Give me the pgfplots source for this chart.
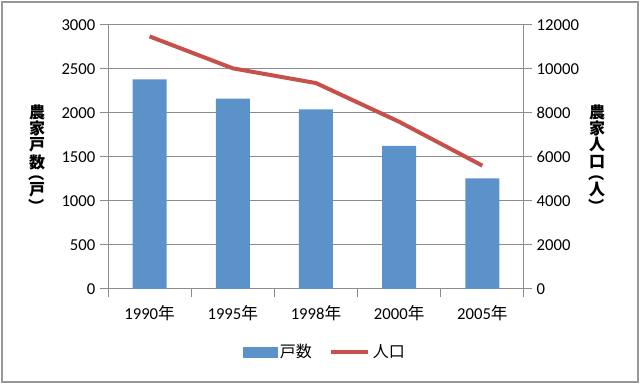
\documentclass[border=0pt]{standalone}
\usepackage{pgfplots}
\pgfplotsset{compat=1.18}
\usepackage{fontspec}
\setmainfont{Carlito}
\newfontfamily\cjk{Noto Sans CJK JP}
\definecolor{barblue}{HTML}{5B92CA}
\definecolor{linered}{HTML}{C6504A}
\definecolor{gridgray}{HTML}{8C8C8C}
\begin{document}
\begin{tikzpicture}
\useasboundingbox (0,0) rectangle (480pt,288pt);
\draw[gridgray!90, line width=1.1pt] (1.5pt,1.5pt) rectangle (478.5pt,286.5pt);
\pgfplotsset{
  mybase/.style={
    at={(81pt,71.25pt)}, anchor=south west, scale only axis,
    width=312pt, height=198pt,
    xmin=-0.5, xmax=4.5,
    axis line style={gridgray, line width=0.75pt},
    tick style={gridgray, line width=0.75pt},
    major tick length=6pt, tick align=outside,
    tick label style={font=\fontsize{12.5}{14}\selectfont},
    scaled y ticks=false,
    /pgf/number format/assume math mode=true,
    /pgf/number format/1000 sep={},
  }
}
\begin{axis}[mybase,
  ymin=0, ymax=3000, ytick={0,500,...,3000},
  axis x line*=bottom, axis y line*=left,
  ymajorgrids, grid style={gridgray, line width=0.75pt},
  xtick={-0.5,0.5,...,4.5}, xticklabels={},
  extra x ticks={0,1,2,3,4},
  extra x tick labels={1990{\cjk 年},1995{\cjk 年},1998{\cjk 年},2000{\cjk 年},2005{\cjk 年}},
  extra x tick style={major tick length=0pt, grid=none, xticklabel style={yshift=-9pt}},
  legend style={at={(0.522,-0.2386)}, anchor=center, legend columns=2, draw=none, fill=none,
    font=\cjk\fontsize{12}{14}\selectfont,
    /tikz/every even column/.append style={column sep=11pt}},
]
\addplot[ybar, bar width=25.5pt, fill=barblue, draw=none, forget plot]
  coordinates {(0,2383) (1,2163) (2,2042) (3,1625) (4,1258)};
\addlegendimage{legend image code/.code={\fill[barblue] (0pt,-3.75pt) rectangle (25.5pt,3.75pt);}}
\addlegendentry{戸数}
\addlegendimage{legend image code/.code={\draw[linered, line width=3pt] (0pt,0pt) -- (27.75pt,0pt);}}
\addlegendentry{人口}
\end{axis}
\begin{axis}[mybase,
  ymin=0, ymax=12000, ytick={0,2000,...,12000},
  axis x line=none, axis y line*=right,
]
\addplot[linered, line width=3pt, no marks]
  coordinates {(0,11480) (1,10030) (2,9360) (3,7600) (4,5606)};
\end{axis}
\begin{scope}[every node/.style={inner sep=0pt, anchor=center, font=\cjk\bfseries\fontsize{12}{14}\selectfont}]
% left label, x = 37px
\node at (27.75pt, 204pt) {農};
\node at (27.75pt, 191.6pt) {家};
\node at (27.75pt, 179.25pt) {戸};
\node at (27.75pt, 166.5pt) {数};
\node[rotate=-90] at (27.75pt, 157.5pt) {（};
\node at (27.75pt, 145.9pt) {戸};
\node[rotate=-90] at (27.75pt, 132.75pt) {）};
% right label, x = 597px
\node at (447.75pt, 204pt) {農};
\node at (447.75pt, 191.6pt) {家};
\node at (447.75pt, 179.25pt) {人};
\node at (447.75pt, 166.5pt) {口};
\node[rotate=-90] at (447.75pt, 157.5pt) {（};
\node at (447.75pt, 145.9pt) {人};
\node[rotate=-90] at (447.75pt, 132.75pt) {）};
\end{scope}
\end{tikzpicture}
\end{document}
